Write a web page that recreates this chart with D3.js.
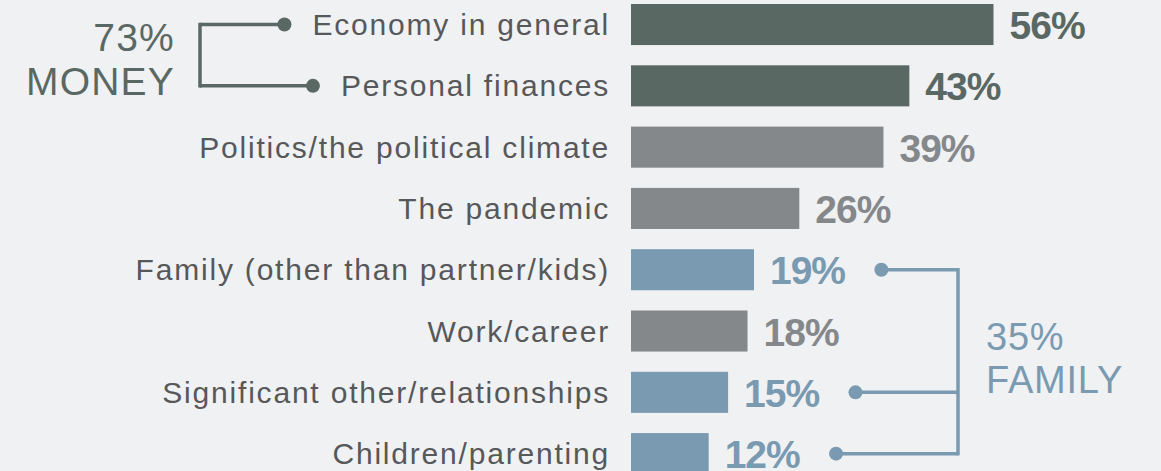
<!DOCTYPE html>
<html>
<head>
<meta charset="utf-8">
<script src="https://cdn.jsdelivr.net/npm/d3@7"></script>
<style>
  html, body { margin: 0; padding: 0; background: #f0f1f3; }
  svg { display: block; }
  text { font-family: "Liberation Sans", Arial, Helvetica, sans-serif; }
</style>
</head>
<body>
<svg id="chart" width="1161" height="471"></svg>
<script>
// Share of respondents naming each topic as a source of stress
const categories = [
  "Economy in general",
  "Personal finances",
  "Politics/the political climate",
  "The pandemic",
  "Family (other than partner/kids)",
  "Work/career",
  "Significant other/relationships",
  "Children/parenting"
];
const values = [56, 43, 39, 26, 19, 18, 15, 12];
const groups = ["money", "money", "other", "other", "family", "other", "family", "family"];

// Group totals shown beside the brackets
const moneyLabel = ["73%", "MONEY"];
const familyLabel = ["35%", "FAMILY"];

const colors = { money: "#5a6864", other: "#85888b", family: "#799ab0" };
const labelColor = "#56585a";

const rows = categories.map((c, i) => ({ cat: c, value: values[i], group: groups[i] }));

const svg = d3.select("#chart");
svg.append("rect").attr("width", 1161).attr("height", 471).attr("fill", "#f0f1f3");

const rowStep = 61.3, padInner = 0.33, firstTop = 4;
const y = d3.scaleBand()
  .domain(categories)
  .range([firstTop, firstTop + rowStep * (categories.length - padInner)])
  .paddingInner(padInner)
  .paddingOuter(0);

const x = d3.scaleLinear().domain([0, 56]).range([631, 993.5]);

const cy = c => y(c) + y.bandwidth() / 2;

// Bars
svg.append("g").selectAll("rect")
  .data(rows).join("rect")
  .attr("x", x(0))
  .attr("y", d => y(d.cat))
  .attr("width", d => x(d.value) - x(0))
  .attr("height", y.bandwidth())
  .attr("fill", d => colors[d.group]);

// Category labels
const catText = svg.append("g").selectAll("text")
  .data(rows).join("text")
  .attr("x", 610)
  .attr("y", d => cy(d.cat) + 10.5)
  .attr("text-anchor", "end")
  .attr("font-size", 30)
  .attr("letter-spacing", "1.8px")
  .attr("fill", labelColor)
  .text(d => d.cat);

// Value labels
const valText = svg.append("g").selectAll("text")
  .data(rows).join("text")
  .attr("x", d => x(d.value) + 16)
  .attr("y", d => cy(d.cat) + 14.5)
  .attr("font-size", 39)
  .attr("font-weight", "bold")
  .attr("letter-spacing", "-1px")
  .attr("fill", d => colors[d.group])
  .text(d => d.value + "%");

// Bracket helper: vertical spine at spineX joining dots at each point
function bracket(points, spineX, color) {
  const g = svg.append("g");
  const ys = points.map(p => p.y);
  const y0 = d3.min(ys), y1 = d3.max(ys);
  g.append("line")
    .attr("x1", spineX).attr("x2", spineX)
    .attr("y1", y0 - 1.75).attr("y2", y1 + 1.75)
    .attr("stroke", color).attr("stroke-width", 3.5);
  points.forEach(p => {
    g.append("line")
      .attr("x1", spineX).attr("x2", p.x)
      .attr("y1", p.y).attr("y2", p.y)
      .attr("stroke", color).attr("stroke-width", 3.5);
    g.append("circle")
      .attr("cx", p.x).attr("cy", p.y).attr("r", 7)
      .attr("fill", color);
  });
}

// Money bracket: dots sit just left of the category labels
const catNodes = catText.nodes();
const moneyPts = rows.map((d, i) => ({ d, i })).filter(o => o.d.group === "money")
  .map(o => ({ x: catNodes[o.i].getBBox().x - 28, y: cy(o.d.cat) }));
bracket(moneyPts, 200, colors.money);

svg.append("g").selectAll("text")
  .data(moneyLabel).join("text")
  .attr("x", 175)
  .attr("y", (d, i) => 51 + i * 43.5)
  .attr("text-anchor", "end")
  .attr("font-size", 39)
  .attr("letter-spacing", "1.2px")
  .attr("fill", colors.money)
  .text(d => d);

// Family bracket: dots sit just right of the value labels
const valNodes = valText.nodes();
const familyPts = rows.map((d, i) => ({ d, i })).filter(o => o.d.group === "family")
  .map(o => {
    const b = valNodes[o.i].getBBox();
    return { x: b.x + b.width + 36, y: cy(o.d.cat) };
  });
bracket(familyPts, 958, colors.family);

svg.append("g").selectAll("text")
  .data(familyLabel).join("text")
  .attr("x", 986)
  .attr("y", (d, i) => 350 + i * 43)
  .attr("font-size", 38)
  .attr("letter-spacing", "0.8px")
  .attr("fill", colors.family)
  .text(d => d);
</script>
</body>
</html>
